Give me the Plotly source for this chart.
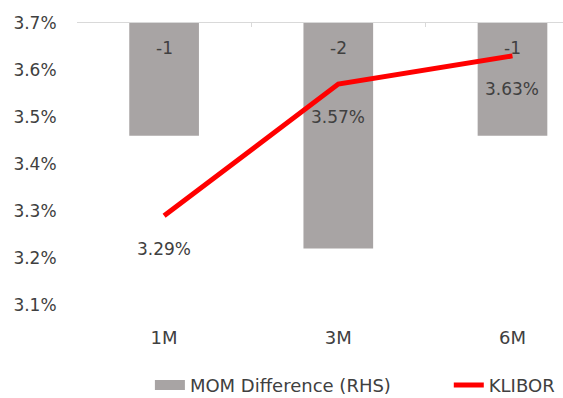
import plotly.graph_objects as go

categories = ["1M", "3M", "6M"]
mom_diff = [-1, -2, -1]
klibor = [3.29, 3.57, 3.63]
klibor_labels = ["3.29%", "3.57%", "3.63%"]
y_ticks = [3.1, 3.2, 3.3, 3.4, 3.5, 3.6, 3.7]
y_tick_text = ["3.1%", "3.2%", "3.3%", "3.4%", "3.5%", "3.6%", "3.7%"]

FONT = "DejaVu Sans"
TXT = "#404040"
BAR = "#A8A4A4"

fig = go.Figure()
# bars on the (hidden) right-hand axis, drawn first
fig.add_trace(go.Bar(
    x=categories, y=mom_diff, yaxis="y", name="MOM Difference (RHS)",
    marker=dict(color=BAR, line=dict(width=0)), width=0.4,
    showlegend=False, legendgroup="mom",
))
# legend swatch for bars (wide rectangle)
fig.add_trace(go.Scatter(
    x=[None], y=[None], yaxis="y", mode="lines", name="MOM Difference (RHS)",
    line=dict(color=BAR, width=12), legendgroup="mom", showlegend=True, legend="legend",
))
# KLIBOR line on the visible left axis, drawn above bars
fig.add_trace(go.Scatter(
    x=categories, y=klibor, yaxis="y2", name="KLIBOR", mode="lines",
    line=dict(color="#FF0000", width=5), legend="legend2",
))
# invisible trace to show the top category axis line
fig.add_trace(go.Scatter(x=categories, y=mom_diff, xaxis="x2", yaxis="y", mode="lines",
                         line=dict(width=0), showlegend=False, hoverinfo="skip"))

annotations = []
for c, v in zip(categories, mom_diff):
    annotations.append(dict(x=c, y=0, xref="x", yref="y", text=str(v), showarrow=False,
                            yshift=-25, font=dict(family=FONT, size=17, color=TXT)))
for c, v, t in zip(categories, klibor, klibor_labels):
    annotations.append(dict(x=c, y=v, xref="x", yref="y2", text=t, showarrow=False,
                            yshift=-33, font=dict(family=FONT, size=17, color=TXT)))

legend_common = dict(orientation="h", xanchor="left", y=-0.285, yanchor="middle",
                     font=dict(family=FONT, size=18, color=TXT),
                     bgcolor="rgba(0,0,0,0)", borderwidth=0)

fig.update_layout(
    width=563, height=398,
    margin=dict(l=77, r=0, t=23, b=93, autoexpand=False),
    paper_bgcolor="white", plot_bgcolor="white",
    font=dict(family=FONT, size=17, color=TXT),
    showlegend=True,
    legend=dict(x=0.15, **legend_common),
    legend2=dict(x=0.765, **legend_common),
    xaxis=dict(type="category", range=[-0.5, 2.29], showline=False, showgrid=False,
               ticks="outside", ticklen=16, tickcolor="rgba(0,0,0,0)",
               tickfont=dict(family=FONT, size=18, color=TXT), zeroline=False),
    xaxis2=dict(type="category", overlaying="x", side="top", range=[-0.5, 2.29],
                showline=True, linecolor="#D9D9D9", linewidth=1, showgrid=False,
                showticklabels=False, ticks="inside", tickson="boundaries",
                ticklen=4, tickcolor="#D9D9D9", zeroline=False),
    yaxis=dict(range=[-2.5, 0], visible=False, showgrid=False, zeroline=False),
    yaxis2=dict(range=[3.1, 3.7], overlaying="y", side="left", tickvals=y_ticks,
                ticktext=y_tick_text, showgrid=False, zeroline=False, showline=False,
                ticks="outside", ticklen=16, tickcolor="rgba(0,0,0,0)",
                tickfont=dict(family=FONT, size=17, color=TXT)),
    annotations=annotations,
    bargap=0.6,
)

fig.write_html("out.html")
